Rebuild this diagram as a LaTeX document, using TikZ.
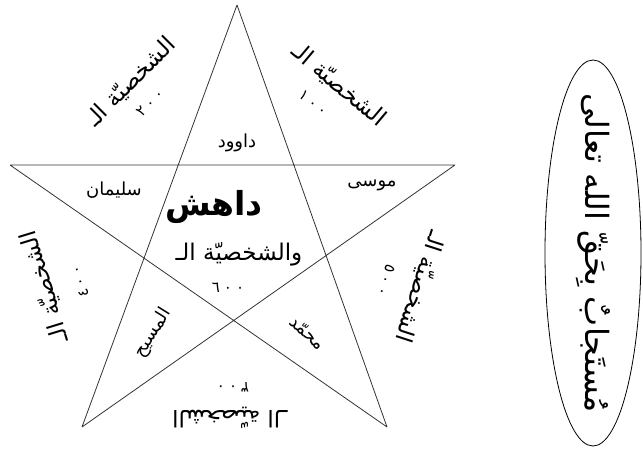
\documentclass[tikz,border=0pt]{standalone}
\usepackage{fontspec}
\usetikzlibrary{shapes.geometric}
\newfontfamily\arabicfont[Script=Arabic]{DejaVu Sans}
\TeXXeTstate=1
\newcommand\rtl[1]{\beginR#1\endR}
\newcommand\nums[3]{#1\hspace{4pt}#2\hspace{4pt}#3}

\begin{document}
\begin{tikzpicture}[x=1pt,y=-1pt,line width=.8pt,
  prophet/.style={font=\arabicfont\fontsize{18}{18}\selectfont,inner sep=1pt},
  bigtxt/.style={font=\arabicfont\bfseries\fontsize{33}{33}\selectfont,inner sep=1pt},
  persona/.style={font=\arabicfont\fontsize{23}{23}\selectfont,inner sep=1pt},
  numlbl/.style={font=\arabicfont\fontsize{15}{15}\selectfont,inner sep=1pt}]
\useasboundingbox (0,0) rectangle (643,465);
% the star
\coordinate (t) at (237,5); \coordinate (l) at (10,165); \coordinate (r) at (455,165);
\coordinate (bl) at (82,427); \coordinate (br) at (387,427);
\draw[black!80] (t)--(bl) (t)--(br) (l)--(r) (l)--(br) (r)--(bl);
% inside
\node[bigtxt] (dahesh) at (214,207) {\rtl{داهش}};
\node[prophet] (dawud) at (237,143) {\rtl{داوود}}; \node[prophet] (suleiman) at (114,190) {\rtl{سليمان}};
\node[prophet] (musa) at (372,185) {\rtl{موسى}};
\node[persona] (wal) at (239,254) {\rtl{والشخصيّة الـ}}; \node[numlbl] (n600) at (228,288) {\nums{٦}{٠}{٠}};
\node[prophet,rotate=58] (masih) at (153,333) {\rtl{المسيح}}; \node[prophet,rotate=-43] (muhammad) at (308,333) {\rtl{محمّد}};
% outside
\node[persona,rotate=45] (p200) at (131,82) {\rtl{الشخصيّة الـ}}; \node[numlbl,rotate=45] (n200) at (150,103) {\nums{٢}{٠}{٠}};
\node[persona,rotate=-40] (p100) at (339,85) {\rtl{الشخصيّة الـ}}; \node[numlbl,rotate=-40] (n100) at (313,103) {\nums{١}{٠}{٠}};
\node[persona,rotate=107] (p400) at (45,287) {\rtl{الشخصيّة الـ}}; \node[numlbl,rotate=107] (n400) at (80,282) {\nums{٤}{٠}{٠}};
\node[persona,rotate=-108] (p500) at (420,287) {\rtl{الشخصيّة الـ}}; \node[numlbl,rotate=-108] (n500) at (386,280) {\nums{٥}{٠}{٠}};
\node[persona,rotate=180] (p300) at (230,418) {\rtl{الشخصيّة الـ}}; \node[numlbl,rotate=180] (n300) at (233,387) {\nums{٣}{٠}{٠}};
% the prayer
\node[rotate=-90,inner sep=0,font=\arabicfont\fontsize{32}{32}\selectfont] (dua) at (593,253) {\rtl{مُستَجابٌ بِحَقّ الله تعالى}};
\draw (dua.center) ellipse [x radius=48, y radius=193];
\end{tikzpicture}
\end{document}
